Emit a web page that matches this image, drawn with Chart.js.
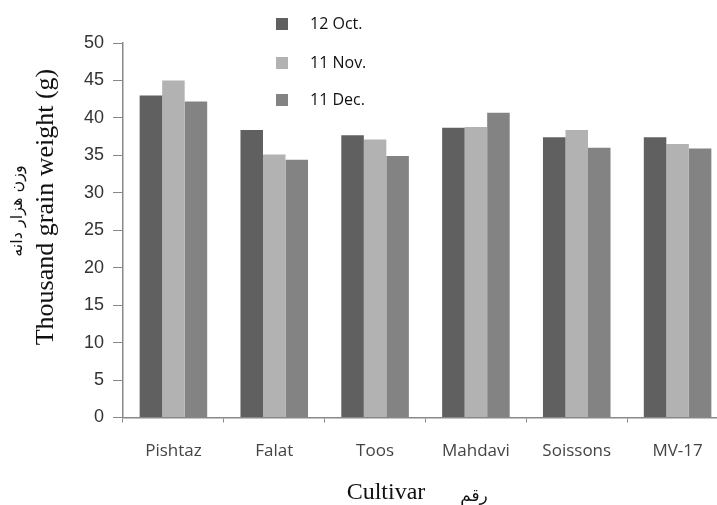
<!DOCTYPE html>
<html>
<head>
<meta charset="utf-8">
<script src="https://cdn.jsdelivr.net/npm/chart.js@4.4.1/dist/chart.umd.min.js"></script>
<style>
  html, body { margin: 0; padding: 0; background: #fff; overflow: hidden; }
  #wrap { width: 735px; height: 505px; }
</style>
</head>
<body>
<div id="wrap"><canvas id="c" width="735" height="505"></canvas></div>
<script>
// ---- data ----
const categories = ["Pishtaz", "Falat", "Toos", "Mahdavi", "Soissons", "MV-17"];
const seriesNames = ["12 Oct.", "11 Nov.", "11 Dec."];
const oct12 = [43.0, 38.4, 37.7, 38.7, 37.4, 37.4];
const nov11 = [45.0, 35.1, 37.1, 38.8, 38.4, 36.5];
const dec11 = [42.2, 34.4, 34.9, 40.7, 36.0, 35.9];
const yTitle = "Thousand grain weight (g)";
const yTitleFa = "وزن هزار دانه";
const xTitle = "Cultivar";
const xTitleFa = "رقم";

const colors = ["#606060", "#b2b2b2", "#838383"];

const titlesPlugin = {
  id: "titles",
  afterDraw(chart) {
    const ctx = chart.ctx;
    ctx.save();
    ctx.fillStyle = "#111";
    // y titles (rotated)
    ctx.save();
    ctx.translate(46, 207);
    ctx.rotate(-Math.PI / 2);
    ctx.textAlign = "center";
    ctx.textBaseline = "middle";
    ctx.font = "26px 'Liberation Serif', 'Times New Roman', serif";
    ctx.fillText(yTitle, 0, 0);
    ctx.restore();
    ctx.save();
    ctx.translate(18, 211);
    ctx.rotate(-Math.PI / 2);
    ctx.textAlign = "center";
    ctx.textBaseline = "middle";
    ctx.font = "16px 'DejaVu Sans', sans-serif";
    ctx.fillText(yTitleFa, 0, 0);
    ctx.restore();
    // x titles
    ctx.textAlign = "center";
    ctx.textBaseline = "middle";
    ctx.font = "24px 'Liberation Serif', 'Times New Roman', serif";
    ctx.fillText(xTitle, 386, 493);
    ctx.font = "17px 'DejaVu Sans', sans-serif";
    ctx.fillText(xTitleFa, 474, 497);
    ctx.restore();
  }
};

const legendPlugin = {
  id: "boxLegend",
  afterDraw(chart) {
    const ctx = chart.ctx;
    const ys = [24, 63, 100];
    ctx.save();
    chart.data.datasets.forEach((ds, i) => {
      ctx.fillStyle = ds.backgroundColor;
      ctx.fillRect(276, ys[i] - 6, 12, 12);
      ctx.fillStyle = "#111";
      ctx.font = "16px 'Open Sans', sans-serif";
      ctx.textAlign = "left";
      ctx.textBaseline = "middle";
      ctx.fillText(ds.label, 310, ys[i]);
    });
    ctx.restore();
  }
};

new Chart(document.getElementById("c"), {
  type: "bar",
  data: {
    labels: categories,
    datasets: [
      { label: seriesNames[0], data: oct12, backgroundColor: colors[0] },
      { label: seriesNames[1], data: nov11, backgroundColor: colors[1] },
      { label: seriesNames[2], data: dec11, backgroundColor: colors[2] }
    ]
  },
  options: {
    responsive: false,
    animation: false,
    layout: { padding: { top: 43, right: 7, left: 0, bottom: 0 } },
    plugins: { legend: { display: false }, tooltip: { enabled: false } },
    datasets: { bar: { barPercentage: 1.0, categoryPercentage: 0.67, borderWidth: 0 } },
    scales: {
      x: {
        afterFit(scale) { scale.height = 87.5; },
        grid: { offset: true, drawOnChartArea: false, drawTicks: true, tickLength: 5, color: "#888" },
        border: { display: true, color: "#888", width: 1.5 },
        ticks: { color: "#444", padding: 18, font: { family: "'Open Sans', sans-serif", size: 17 } }
      },
      y: {
        min: 0, max: 50,
        afterFit(scale) { scale.width = 123; },
        grid: { drawOnChartArea: false, drawTicks: true, tickLength: 10, color: "#888" },
        border: { display: true, color: "#888", width: 1.5 },
        ticks: { stepSize: 5, color: "#333", padding: 9, font: { family: "'Liberation Sans', Arial, sans-serif", size: 18 } }
      }
    }
  },
  plugins: [titlesPlugin, legendPlugin]
});
</script>
</body>
</html>
